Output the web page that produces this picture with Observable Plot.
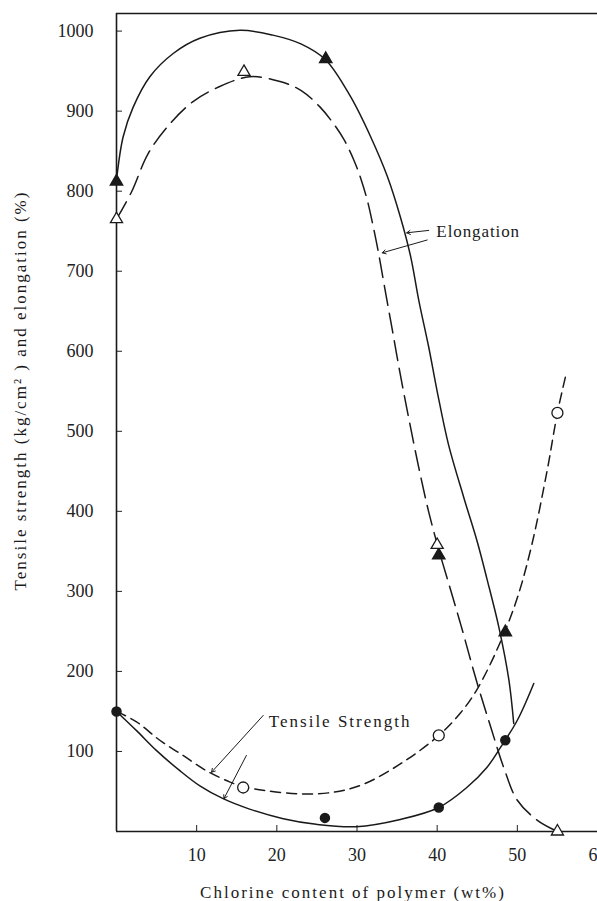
<!DOCTYPE html>
<html><head><meta charset="utf-8">
<script src="https://cdn.jsdelivr.net/npm/d3@7"></script>
<script src="https://cdn.jsdelivr.net/npm/@observablehq/plot@0.6"></script>
<style>
html,body{margin:0;padding:0;background:#fff;}
</style></head><body><div id="chart"></div>
<script>
// ---- tick values ----
const xTicks = [10, 20, 30, 40, 50, 60];
const yTicks = [100, 200, 300, 400, 500, 600, 700, 800, 900, 1000];

// ---- measured points (chlorine wt%, value) ----
const elongFilledX = [0, 26.1, 40.2, 48.5];
const elongFilledY = [812, 965, 345, 249];
const elongOpenX = [0, 15.9, 40, 55];
const elongOpenY = [765, 949, 358, 0];
const tensFilledX = [0, 26, 40.2, 48.5];
const tensFilledY = [150, 17, 30, 114];
const tensOpenX = [15.8, 40.2, 55];
const tensOpenY = [55, 120, 523];

// ---- curves ----
const elongSolidX = [0, 0.83, 2.08, 4.16, 7.07, 10.4, 15.4, 19.5, 23, 26.1, 29.2, 31.7, 33.8, 35.4, 36.7, 37.7, 38.95, 40, 41.4, 43.3, 45, 46.2, 47.7, 48.95, 49.55];
const elongSolidY = [814, 868, 905, 943, 972, 991, 1001, 995, 984, 964, 918, 868, 818, 768, 718, 664, 605, 550, 484, 418, 362, 316, 255, 189, 135];
const elongDashX = [0, 1.87, 3.95, 6.65, 9.55, 12.5, 16.6, 20.4, 23, 25.4, 27.1, 28.4, 29.6, 30.5, 31.3, 32, 32.7, 33.3, 34.4, 35.4, 36.5, 37.7, 38.95, 40.2, 41.2, 42.9, 45, 46.7, 48.3, 50, 52.5, 54.8];
const elongDashY = [765, 799, 847, 884, 912, 929, 943, 937, 926, 905, 884, 864, 839, 815, 788, 757, 722, 688, 627, 571, 514, 455, 399, 352, 318, 260, 185, 130, 80, 39, 14, 1];
const tensSolidX = [0, 2.5, 5, 7.9, 10.4, 13.3, 16.6, 20.8, 24.9, 29.9, 35.4, 40.2, 43.7, 46.2, 47.9, 50, 52.05];
const tensSolidY = [150, 126, 101, 76, 57, 41, 28, 16, 9, 6, 15, 30, 55, 80, 105, 139, 185];
const tensDashX = [0, 2.5, 5.4, 8.3, 11.2, 14.1, 15.8, 18.7, 22.9, 27, 30.8, 35.8, 40.2, 42.9, 45, 47.9, 50, 51.8, 53.7, 55, 56];
const tensDashY = [150, 137, 114, 95, 76, 62, 56, 51, 47, 49, 59, 87, 120, 148, 178, 237, 292, 358, 450, 523, 568];

// ---- annotations ----
const noteText = ["Elongation", "Tensile Strength"];
const noteX = [39.9, 19.0];
const noteY = [749, 137];
const arrowX1 = [38.95, 38.75, 18.3, 16.2];
const arrowY1 = [751, 739, 145, 95];
const arrowX2 = [36.2, 33.15, 11.85, 13.4];
const arrowY2 = [748, 723, 74, 41];

const xTitle = "Chlorine content of polymer (wt%)";
const yTitle = "Tensile strength (kg/cm² ) and elongation (%)";

const zip = (xs, ys) => xs.map((x, i) => ({x, y: ys[i]}));
const arrows = arrowX1.map((x1, i) => ({x1, y1: arrowY1[i], x2: arrowX2[i], y2: arrowY2[i]}));
const notes = noteText.map((t, i) => ({t, x: noteX[i], y: noteY[i]}));

const ink = "#1a1a1a";
const font = "'Liberation Serif', 'DejaVu Serif', serif";

const chart = Plot.plot({
  width: 597,
  height: 901,
  marginLeft: 116,
  marginRight: 0,
  marginTop: 13,
  marginBottom: 70,
  style: {background: "#fff", fontFamily: font, fontSize: "17px", color: "#222"},
  x: {domain: [0, 60]},
  y: {domain: [0, 1022]},
  marks: [
    Plot.axisX({ticks: xTicks, tickSize: -6, tickPadding: 23, label: null, fontSize: 18, tickFormat: "d"}),
    Plot.axisY({ticks: yTicks, tickSize: -6, tickPadding: 29, label: null, fontSize: 18, tickFormat: "d"}),
    Plot.ruleX([0], {stroke: ink, strokeWidth: 1.6}),
    Plot.ruleY([0], {stroke: ink, strokeWidth: 1.6}),
    Plot.ruleY([1022], {stroke: ink, strokeWidth: 1.3}),
    Plot.ruleX([60], {stroke: "#ccc", strokeWidth: 1}),
    Plot.line(zip(elongSolidX, elongSolidY), {x: "x", y: "y", curve: "catmull-rom", stroke: ink, strokeWidth: 1.5}),
    Plot.line(zip(elongDashX, elongDashY), {x: "x", y: "y", curve: "catmull-rom", stroke: ink, strokeWidth: 1.5, strokeDasharray: "20,8"}),
    Plot.line(zip(tensSolidX, tensSolidY), {x: "x", y: "y", curve: "catmull-rom", stroke: ink, strokeWidth: 1.5}),
    Plot.line(zip(tensDashX, tensDashY), {x: "x", y: "y", curve: "catmull-rom", stroke: ink, strokeWidth: 1.5, strokeDasharray: "10,6"}),
    Plot.dot(zip(elongFilledX, elongFilledY), {x: "x", y: "y", symbol: "triangle", r: 4.5, fill: ink, stroke: ink}),
    Plot.dot(zip(elongOpenX, elongOpenY), {x: "x", y: "y", symbol: "triangle", r: 4.5, fill: "#fff", stroke: ink, strokeWidth: 1.3}),
    Plot.dot(zip(tensFilledX, tensFilledY), {x: "x", y: "y", r: 4.5, fill: ink, stroke: ink}),
    Plot.dot(zip(tensOpenX, tensOpenY), {x: "x", y: "y", r: 5.5, fill: "#fff", stroke: ink, strokeWidth: 1.3}),
    Plot.arrow(arrows, {x1: "x1", y1: "y1", x2: "x2", y2: "y2", stroke: ink, strokeWidth: 1, headLength: 6}),
    Plot.text(notes, {x: "x", y: "y", text: "t", textAnchor: "start", lineAnchor: "middle", fill: ink, fontSize: 17}),
    Plot.text([{t: xTitle, x: 29.5}], {x: "x", text: "t", frameAnchor: "bottom", textAnchor: "middle", lineAnchor: "middle", dy: 60.6, fill: ink, fontSize: 17}),
    Plot.text([{t: yTitle, y: 551}], {y: "y", text: "t", frameAnchor: "left", textAnchor: "middle", lineAnchor: "middle", dx: -96.4, rotate: -90, fill: ink, fontSize: 17})
  ]
});
document.getElementById("chart").appendChild(chart);
chart.querySelectorAll("text").forEach(el => {
  const s = el.textContent;
  if (s === xTitle || s === yTitle || s === "Tensile Strength") el.setAttribute("letter-spacing", "2");
  else if (s === "Elongation") el.setAttribute("letter-spacing", "0.9");
});
</script></body></html>
